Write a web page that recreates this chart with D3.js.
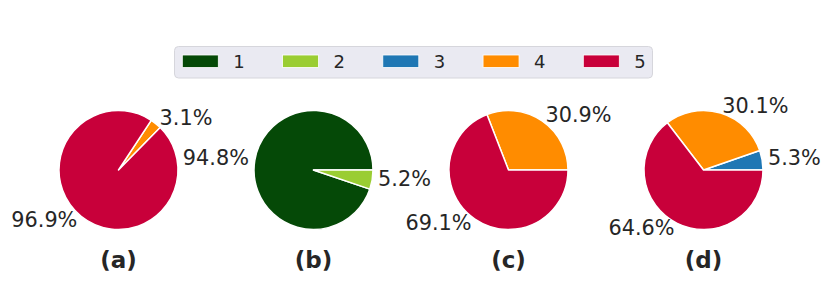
<!DOCTYPE html>
<html>
<head>
<meta charset="utf-8">
<script src="https://cdn.jsdelivr.net/npm/d3@7"></script>
<style>
  body { margin: 0; background: #fff; }
  text { font-family: "DejaVu Sans", sans-serif; fill: #262626; }
</style>
</head>
<body>
<svg id="chart" width="831" height="283"></svg>
<script>
// categorie e colori della legenda
const categories = ["1", "2", "3", "4", "5"];
const colors = ["#054907", "#9acd32", "#1f77b4", "#ff8c00", "#c8003a"];
// un pannello per ogni torta
const panels = ["(a)", "(b)", "(c)", "(d)"];
// percentuali per categoria (0 = assente)
const valuesA = [0, 0, 0, 3.1, 96.9];
const valuesB = [94.8, 5.2, 0, 0, 0];
const valuesC = [0, 0, 0, 30.9, 69.1];
const valuesD = [0, 0, 5.3, 30.1, 64.6];
const startAngles = [45.5, 0, 0, 0]; // gradi, antiorario da ore 3

const allValues = [valuesA, valuesB, valuesC, valuesD];
const radius = 59.5;
const cy = 170;

const svg = d3.select("#chart");
const color = d3.scaleOrdinal().domain(categories).range(colors);
const xPos = d3.scalePoint().domain(panels).range([118.5, 703.5]);

const arc = d3.arc().innerRadius(0).outerRadius(radius);

panels.forEach((p, i) => {
  const data = categories.map((c, j) => ({cat: c, v: allValues[i][j]})).filter(d => d.v > 0);
  const s = Math.PI / 2 - startAngles[i] * Math.PI / 180;
  const pie = d3.pie().value(d => d.v).sort(null)
      .startAngle(s).endAngle(s - 2 * Math.PI);   // verso antiorario
  const arcs = pie(data);

  const g = svg.append("g").attr("transform", `translate(${xPos(p)},${cy})`);

  g.selectAll("path")
    .data(arcs)
    .join("path")
    .attr("d", arc)
    .attr("fill", d => color(d.data.cat))
    .attr("stroke", "#fff")
    .attr("stroke-width", 1.5)
    .attr("stroke-linejoin", "round");

  g.selectAll("text.lbl")
    .data(arcs)
    .join("text")
    .attr("class", "lbl")
    .each(function(d) {
      const a = (d.startAngle + d.endAngle) / 2;
      const x = 1.1 * radius * Math.sin(a);
      const y = -1.1 * radius * Math.cos(a);
      d3.select(this)
        .attr("x", x).attr("y", y)
        .attr("dy", "0.28em")
        .attr("text-anchor", x > 0 ? "start" : "end");
    })
    .style("font-size", "20.8px")
    .text(d => d.data.v.toFixed(1) + "%");

  svg.append("text")
    .attr("x", xPos(p))
    .attr("y", 268)
    .attr("text-anchor", "middle")
    .style("font-size", "23px")
    .style("font-weight", "bold")
    .text(p);
});

// legenda
const leg = svg.append("g");
leg.append("rect")
  .attr("x", 174.5).attr("y", 46.5)
  .attr("width", 478).attr("height", 31.5)
  .attr("rx", 4)
  .attr("fill", "#eaeaf2")
  .attr("stroke", "#d6d6dc")
  .attr("stroke-width", 1);

const legX = d3.scalePoint().domain(categories).range([182.3, 583.3]);
const items = leg.selectAll("g.item")
  .data(categories)
  .join("g")
  .attr("class", "item")
  .attr("transform", d => `translate(${legX(d)},55)`);

items.append("rect")
  .attr("width", 36).attr("height", 12.5)
  .attr("fill", d => color(d))
  .attr("stroke", "#fff")
  .attr("stroke-width", 0.8);

items.append("text")
  .attr("x", 51)
  .attr("y", 13.4)
  .style("font-size", "18px")
  .text(d => d);
</script>
</body>
</html>
